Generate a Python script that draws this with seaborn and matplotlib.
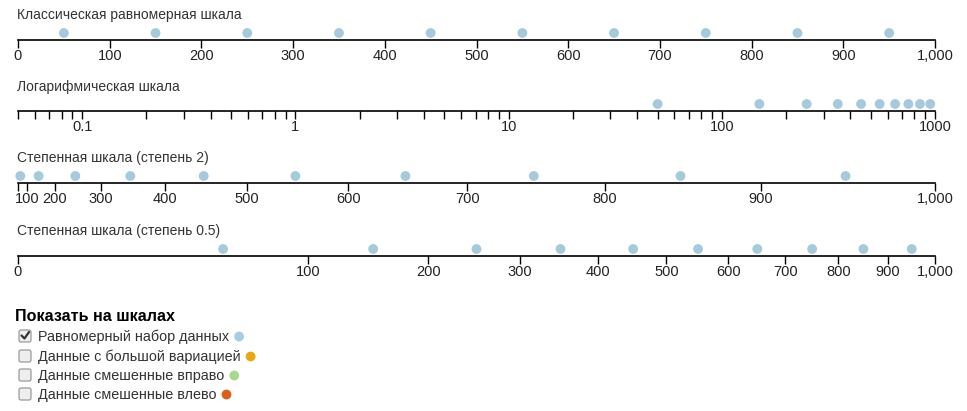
import numpy as np
import pandas as pd
import matplotlib.pyplot as plt
import seaborn as sns
from matplotlib.ticker import FixedLocator, FuncFormatter, LogLocator, NullFormatter
from matplotlib.patches import FancyBboxPatch

sns.set_theme(style="ticks")
plt.rcParams['font.family'] = ['Liberation Sans', 'DejaVu Sans']

# ------------------------------
# Данные
# ------------------------------
valores = [50, 150, 250, 350, 450, 550, 650, 750, 850, 950]
titulos = [
    'Классическая равномерная шкала',
    'Логарифмическая шкала',
    'Степенная шкала (степень 2)',
    'Степенная шкала (степень 0.5)',
]
ticks_lin = [0, 100, 200, 300, 400, 500, 600, 700, 800, 900, 1000]
ticks_log = [0.1, 1, 10, 100, 1000]
ticks_pow2 = [0, 100, 200, 300, 400, 500, 600, 700, 800, 900, 1000]
ticks_sqrt = [0, 100, 200, 300, 400, 500, 600, 700, 800, 900, 1000]

legenda_titulo = 'Показать на шкалах'
legenda_itens = [
    'Равномерный набор данных',
    'Данные с большой вариацией',
    'Данные смешенные вправо',
    'Данные смешенные влево',
]
legenda_cores = ['#a6cee3', '#e6a817', '#a8d98f', '#d9601a']
legenda_marcado = [True, False, False, False]

cor_ponto = '#a6c9dc'
cor_texto = '#222222'

# ------------------------------
# Figura
# ------------------------------
W, H = 967, 411
fig = plt.figure(figsize=(W / 100, H / 100), dpi=100)

# eixo de fundo em pixels para a legenda
lax = fig.add_axes([0, 0, 1, 1])
lax.set_xlim(0, W)
lax.set_ylim(H, 0)
lax.axis('off')

linha_y = [40, 111, 183, 256]
titulo_y = [15, 87, 158, 231]

df = pd.DataFrame({'valor': valores, 'y': 0.5})


def fmt_milhar(x, pos):
    return f'{x:,.0f}'


for i in range(4):
    ax = fig.add_axes([18 / W, 1 - linha_y[i] / H, 917 / W, 14 / H])
    ax.patch.set_alpha(0)

    if i == 1:
        ax.set_xscale('log')
        ax.set_xlim(0.05, 1000)
        ax.xaxis.set_major_locator(FixedLocator(ticks_log))
        ax.xaxis.set_major_formatter(FuncFormatter(lambda x, p: f'{x:g}'))
        ax.xaxis.set_minor_locator(LogLocator(base=10, subs=np.arange(2, 10)))
        ax.xaxis.set_minor_formatter(NullFormatter())
    elif i == 2:
        ax.set_xscale('function', functions=(lambda x: np.sign(x) * x ** 2,
                                             lambda x: np.sign(x) * np.sqrt(np.abs(x))))
        ax.set_xlim(0, 1000)
        ax.xaxis.set_major_locator(FixedLocator(ticks_pow2))
        ax.xaxis.set_major_formatter(FuncFormatter(lambda x, p: '' if x == 0 else f'{x:,.0f}'))
    elif i == 3:
        ax.set_xscale('function', functions=(lambda x: np.sqrt(np.clip(x, 0, None)),
                                             lambda x: np.square(x)))
        ax.set_xlim(0, 1000)
        ax.xaxis.set_major_locator(FixedLocator(ticks_sqrt))
        ax.xaxis.set_major_formatter(FuncFormatter(fmt_milhar))
    else:
        ax.set_xlim(0, 1000)
        ax.xaxis.set_major_locator(FixedLocator(ticks_lin))
        ax.xaxis.set_major_formatter(FuncFormatter(fmt_milhar))

    sns.scatterplot(data=df, x='valor', y='y', ax=ax, color=cor_ponto, s=50,
                    edgecolor='none', legend=False, clip_on=False, zorder=3)
    ax.set_ylim(0, 1)
    ax.set_yticks([])
    ax.set_xlabel('')
    ax.set_ylabel('')
    for s in ['top', 'left', 'right']:
        ax.spines[s].set_visible(False)
    ax.spines['bottom'].set_color('black')
    ax.spines['bottom'].set_linewidth(1.2)
    ax.tick_params(axis='x', which='both', direction='out', length=6, width=1,
                   color='black', labelsize=10.5, labelcolor=cor_texto, pad=0.5)

    lax.text(17, titulo_y[i], titulos[i], fontsize=10, color='#333333', va='center', ha='left')

# ------------------------------
# Legenda (checkboxes)
# ------------------------------
lax.text(15, 316, legenda_titulo, fontsize=11.6, fontweight='bold', color='black',
         va='center', ha='left')

item_y = [336, 356, 375, 394]
fig.canvas.draw()
renderer = fig.canvas.get_renderer()
inv = lax.transData.inverted()

for nome, cor, marcado, yy in zip(legenda_itens, legenda_cores, legenda_marcado, item_y):
    caixa = FancyBboxPatch((19, yy - 6), 12, 12, boxstyle='round,pad=0,rounding_size=2',
                           facecolor='#eeeeee', edgecolor='#9a9a9a', linewidth=0.9)
    lax.add_patch(caixa)
    if marcado:
        lax.plot([21.5, 24.5, 29], [yy - 0.5, yy + 2.5, yy - 4], color='#333333',
                 linewidth=1.6, solid_capstyle='round')
    t = lax.text(38, yy + 0.5, nome, fontsize=10.4, color='#333333', va='center', ha='left')
    bb = t.get_window_extent(renderer=renderer)
    x_fim = inv.transform((bb.x1, bb.y0))[0]
    lax.scatter([x_fim + 10], [yy + 0.5], s=50, color=cor, edgecolor='none')

fig.savefig('out.png', dpi=100)
